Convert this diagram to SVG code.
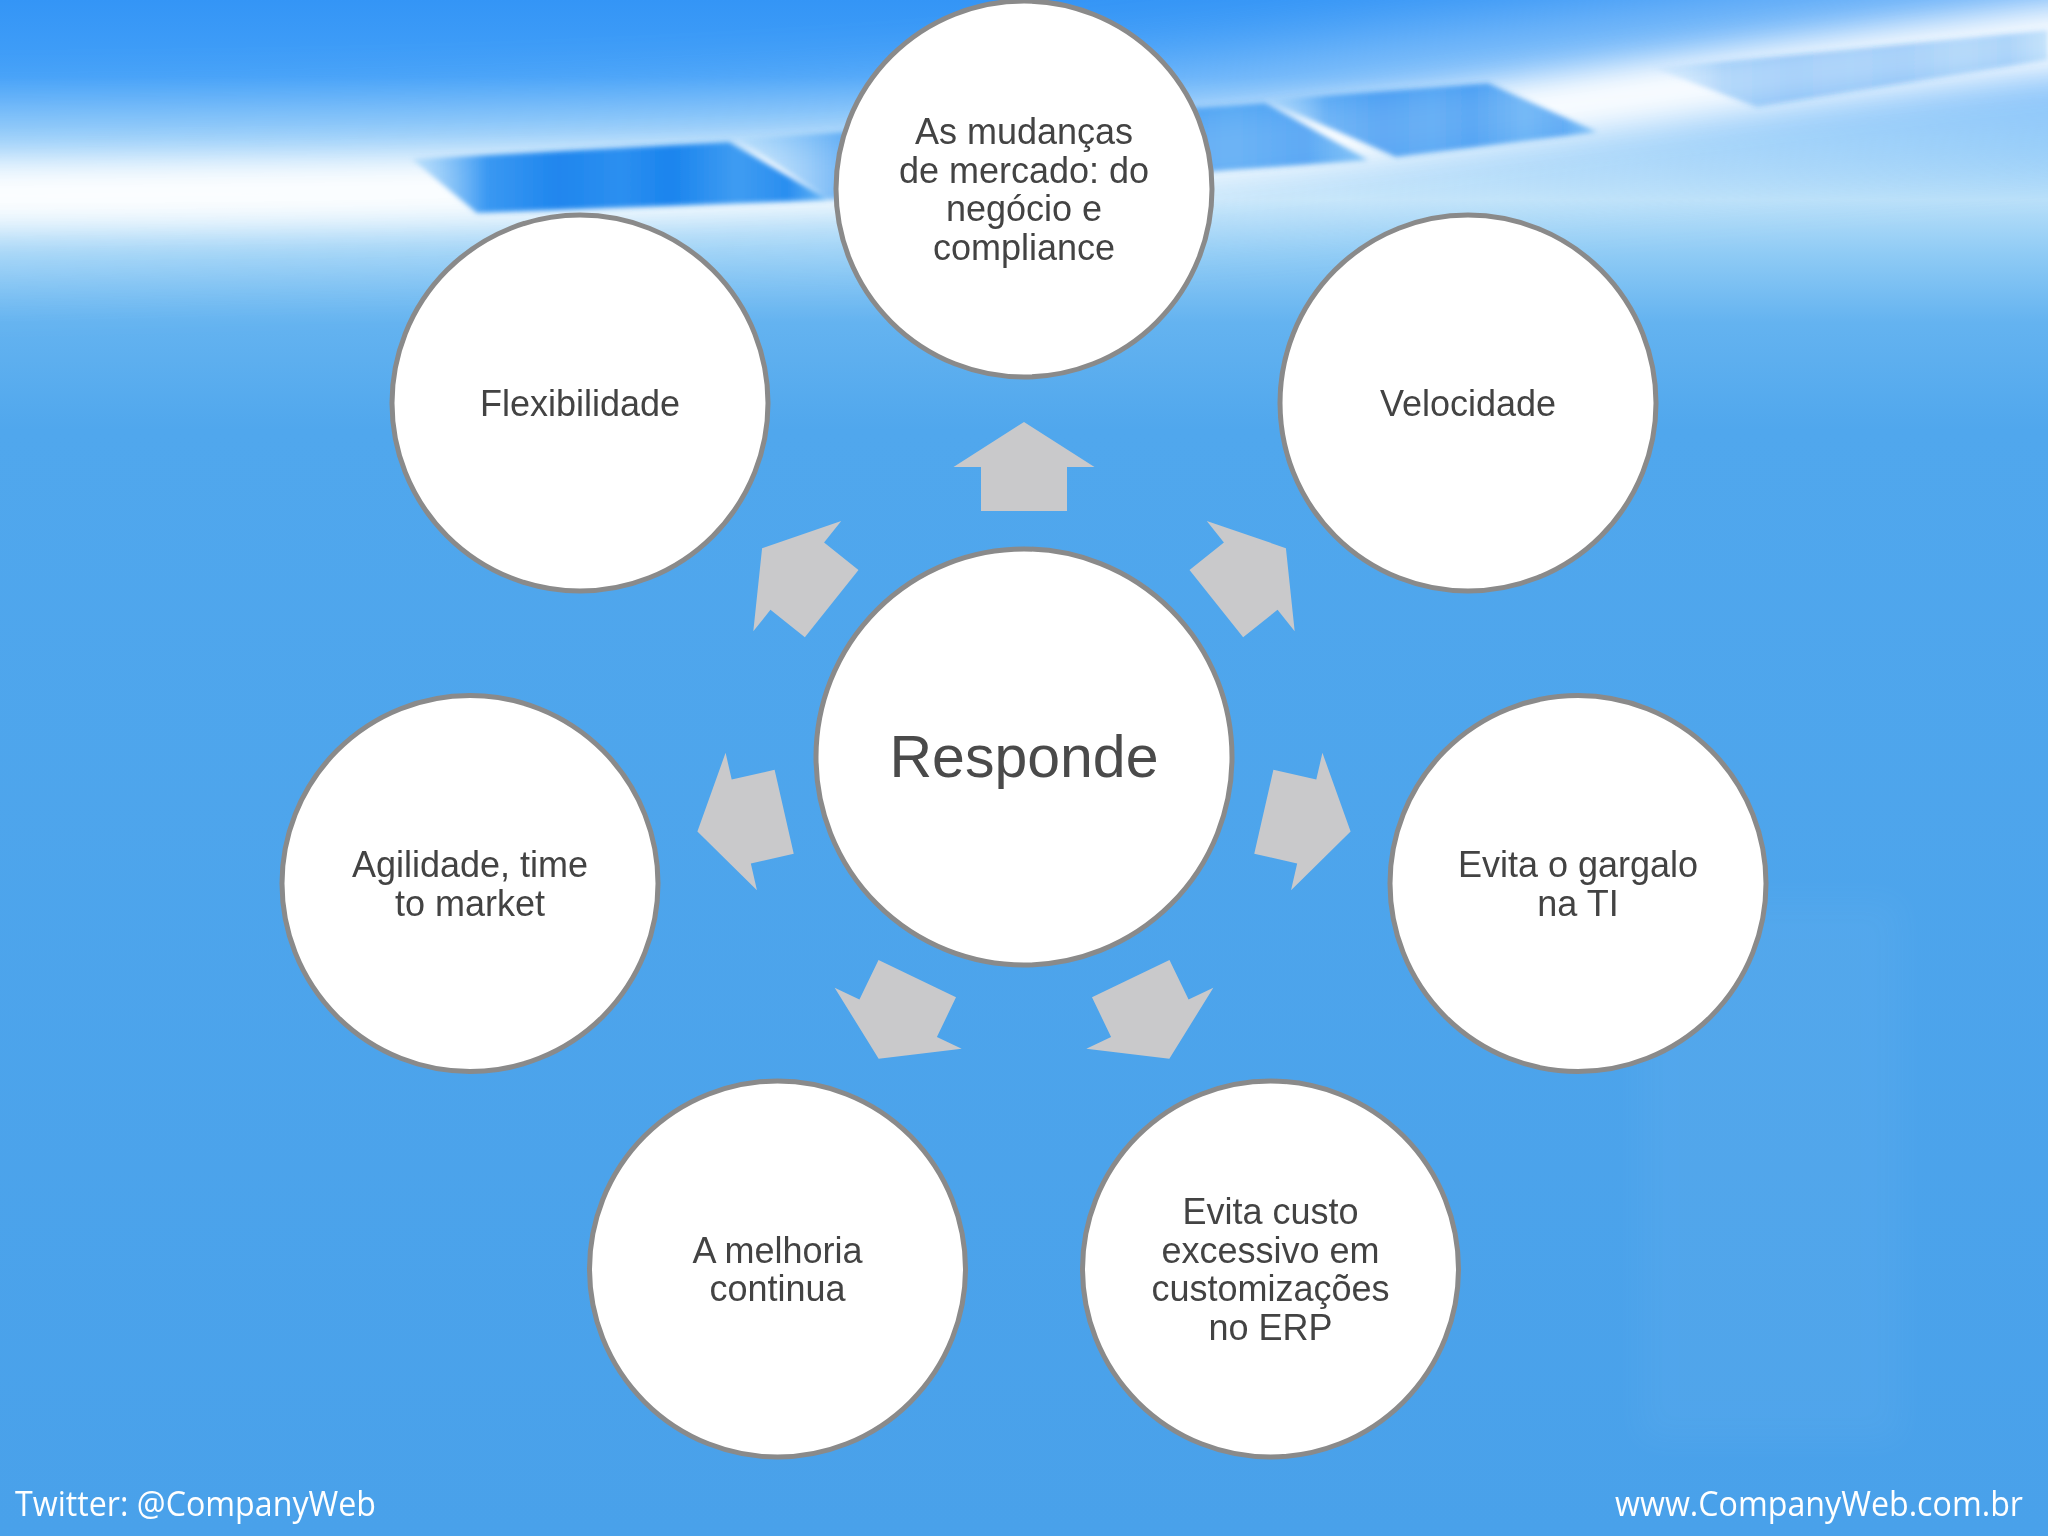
<svg xmlns="http://www.w3.org/2000/svg" width="2048" height="1536" viewBox="0 0 2048 1536">
  <defs>
    <linearGradient id="bg" x1="0" y1="0" x2="0" y2="1536" gradientUnits="userSpaceOnUse">
      <stop offset="0" stop-color="#3495f6"/>
      <stop offset="0.05" stop-color="#43a0f8"/>
      <stop offset="0.09" stop-color="#7ec1f8"/>
      <stop offset="0.13" stop-color="#b8dff9"/>
      <stop offset="0.165" stop-color="#8fcbf5"/>
      <stop offset="0.21" stop-color="#64b3f0"/>
      <stop offset="0.28" stop-color="#50a7ed"/>
      <stop offset="1" stop-color="#49a1ea"/>
    </linearGradient>
    <linearGradient id="tile" x1="0" y1="0" x2="1" y2="0">
      <stop offset="0" stop-color="#a6d6fa" stop-opacity="0.6"/>
      <stop offset="0.18" stop-color="#3a98f2"/>
      <stop offset="0.35" stop-color="#1f86ee"/>
      <stop offset="0.5" stop-color="#2c8ff0"/>
      <stop offset="0.62" stop-color="#1a84ee"/>
      <stop offset="0.78" stop-color="#3f9cf2"/>
      <stop offset="0.9" stop-color="#2a8ef0"/>
      <stop offset="1" stop-color="#6ab8f6"/>
    </linearGradient>
    <filter id="blur2" x="-10%" y="-30%" width="120%" height="160%">
      <feGaussianBlur stdDeviation="2.5"/>
    </filter>
    <filter id="blur20" x="-20%" y="-100%" width="140%" height="300%">
      <feGaussianBlur stdDeviation="16"/>
    </filter>
    <filter id="blur50" x="-20%" y="-100%" width="140%" height="300%">
      <feGaussianBlur stdDeviation="40"/>
    </filter>
    <style>
      .node circle { fill: #ffffff; stroke: #8a8a8a; stroke-width: 5; }
      .lbl { font-family: "Liberation Sans", Arial, sans-serif; font-size: 36px; fill: #434343; text-anchor: middle; }
      .big { font-family: "Liberation Sans", Arial, sans-serif; font-size: 59px; fill: #4a4a4a; text-anchor: middle; }
      .arrow { fill: #c9c9cb; }
      .foot { font-family: "Open Sans", "DejaVu Sans", sans-serif; font-size: 34px; fill: #ffffff; }
    </style>
    <path id="arr" d="M 0,-335 L 70.5,-290 L 43,-290 L 43,-246 L -43,-246 L -43,-290 L -70.5,-290 Z"/>
  </defs>

  <!-- background -->
  <rect x="0" y="0" width="2048" height="1536" fill="url(#bg)"/>
  <path d="M -100,130 C 500,130 1000,110 1400,40 L 2150,-60 L 2150,130 C 1700,160 1300,210 900,235 L -100,260 Z" fill="#ffffff" opacity="0.4" filter="url(#blur50)"/>
  <path d="M -60,165 C 400,160 900,160 1300,110 C 1600,70 1850,30 2100,0 L 2100,70 C 1800,100 1550,140 1300,170 C 900,215 400,225 -60,225 Z" fill="#ffffff" opacity="0.95" filter="url(#blur20)"/>
  <rect x="1640" y="900" width="260" height="540" fill="#ffffff" opacity="0.03" filter="url(#blur20)"/>

  <!-- tiles -->
  <g filter="url(#blur2)">
    <polygon points="412,159 729,142 829,200 477,213" fill="url(#tile)"/>
    <polygon points="740,139 1265,103 1368,160 829,200" fill="url(#tile)" opacity="0.75"/>
    <polygon points="1267,100 1488,83 1597,132 1396,157" fill="url(#tile)" opacity="0.7"/>
    <polygon points="1654,68 2048,30 2048,60 1757,107" fill="url(#tile)" opacity="0.35"/>
  </g>

  <!-- connectors -->
  <g id="connectors">
    <use href="#arr" class="arrow" transform="translate(1024,757) rotate(0)"/>
    <use href="#arr" class="arrow" transform="translate(1024,757) rotate(51.4286)"/>
    <use href="#arr" class="arrow" transform="translate(1024,757) rotate(102.857)"/>
    <use href="#arr" class="arrow" transform="translate(1024,757) rotate(154.286)"/>
    <use href="#arr" class="arrow" transform="translate(1024,757) rotate(205.714)"/>
    <use href="#arr" class="arrow" transform="translate(1024,757) rotate(257.143)"/>
    <use href="#arr" class="arrow" transform="translate(1024,757) rotate(308.571)"/>
  </g>

  <!-- nodes -->
  <g id="node-center" class="node">
    <circle cx="1024" cy="757" r="208"/>
    <text class="big" x="1024" y="777">Responde</text>
  </g>
  <g id="node-mudancas" class="node">
    <circle cx="1024" cy="189" r="188"/>
    <text class="lbl" x="1024" y="144">As mudanças</text>
    <text class="lbl" x="1024" y="182.5">de mercado: do</text>
    <text class="lbl" x="1024" y="221">negócio e</text>
    <text class="lbl" x="1024" y="259.5">compliance</text>
  </g>
  <g id="node-velocidade" class="node">
    <circle cx="1468" cy="403" r="188"/>
    <text class="lbl" x="1468" y="416">Velocidade</text>
  </g>
  <g id="node-gargalo" class="node">
    <circle cx="1578" cy="883.5" r="188"/>
    <text class="lbl" x="1578" y="877">Evita o gargalo</text>
    <text class="lbl" x="1578" y="915.5">na TI</text>
  </g>
  <g id="node-custo" class="node">
    <circle cx="1270.5" cy="1269" r="188"/>
    <text class="lbl" x="1270.5" y="1224">Evita custo</text>
    <text class="lbl" x="1270.5" y="1262.5">excessivo em</text>
    <text class="lbl" x="1270.5" y="1301">customizações</text>
    <text class="lbl" x="1270.5" y="1339.5">no ERP</text>
  </g>
  <g id="node-melhoria" class="node">
    <circle cx="777.5" cy="1269" r="188"/>
    <text class="lbl" x="777.5" y="1262.5">A melhoria</text>
    <text class="lbl" x="777.5" y="1301">continua</text>
  </g>
  <g id="node-agilidade" class="node">
    <circle cx="470" cy="883.5" r="188"/>
    <text class="lbl" x="470" y="877">Agilidade, time</text>
    <text class="lbl" x="470" y="915.5">to market</text>
  </g>
  <g id="node-flexibilidade" class="node">
    <circle cx="580" cy="403" r="188"/>
    <text class="lbl" x="580" y="416">Flexibilidade</text>
  </g>

  <!-- footer -->
  <text class="foot" x="15" y="1516" textLength="361" lengthAdjust="spacingAndGlyphs">Twitter: @CompanyWeb</text>
  <text class="foot" x="1615" y="1516" textLength="408" lengthAdjust="spacingAndGlyphs">www.CompanyWeb.com.br</text>
</svg>
